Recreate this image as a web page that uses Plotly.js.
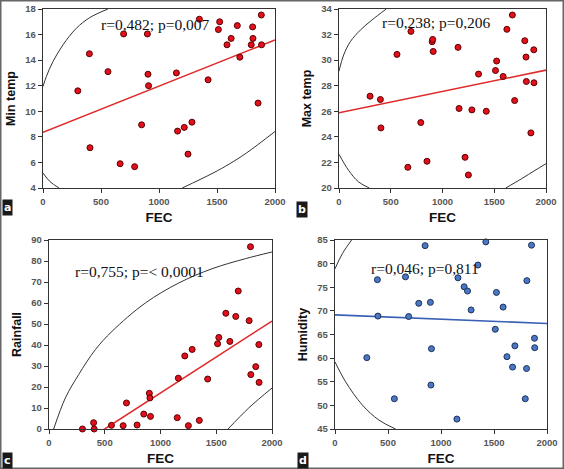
<!DOCTYPE html>
<html><head><meta charset="utf-8">
<script src="https://cdn.plot.ly/plotly-3.0.1.min.js"></script>
<style>html,body{margin:0;padding:0;background:#fff}#chart{width:564px;height:469px}</style>
</head><body><div id="chart"></div>
<script>
// ---- data ----
const FEC = [300,400,405,560,665,695,790,850,900,905,910,1150,1160,1218,1250,1284,1348,1423,1512,1523,1586,1622,1675,1697,1795,1807,1810,1854,1882,1884];
const minTemp = [11.6,14.5,7.15,13.1,5.9,16.05,5.67,8.94,16.05,12.9,12.0,13.0,8.45,8.74,6.65,9.15,17.2,12.46,16.39,17.0,15.2,15.7,16.7,14.23,15.2,16.6,15.7,10.64,17.53,15.2];
const maxTemp = [27.18,26.92,24.70,30.45,21.62,32.25,25.12,22.09,31.44,31.62,30.68,31.0,26.22,22.40,21.02,26.11,28.91,26.0,29.19,29.93,28.72,32.41,33.53,26.84,31.52,30.24,28.33,24.31,30.81,28.23];
const rainfall = [0,3.0,0,1.75,1.6,12.4,1.9,7.1,17.0,14.8,6.0,5.4,24.2,34.8,1.6,37.9,4.1,23.8,40.6,43.6,55.1,41.7,53.6,65.7,51.6,86.8,25.9,29.7,40.2,22.2];
const humidity = [60.1,76.6,68.9,51.4,77.2,68.8,71.6,83.8,71.8,54.3,62.0,47.1,77.0,75.1,74.2,70.2,79.7,84.6,66.1,73.9,70.8,60.3,58.1,62.6,51.4,57.8,76.4,83.9,64.2,62.2];

// fitted regression lines at FEC = 0 and 2000
const fitX = [0, 2000];
const minFit = [8.35, 15.58];
const maxFit = [25.88, 29.22];
const rainFit = [-17.1, 51.4];
const humFit = [69.15, 67.33];

// confidence-ellipse arcs
const aArc1X = [0,29,86,172,287,402,560], aArc1Y = [11.94,12.72,13.89,15.19,16.49,17.32,18.0];
const aArc2X = [0,58,138], aArc2Y = [5.17,4.52,4.0];
const aArc3X = [1200,1466,1610,1753,2000], aArc3Y = [4.0,5.17,5.9,6.73,8.42];
const bArc1X = [0,45,109,206,318,457], bArc1Y = [29.14,30.4,31.44,32.35,33.14,34.0];
const bArc2X = [0,93,190,293], bArc2Y = [22.64,21.38,20.47,20.0];
const bArc3X = [1611,1765,1894,2000], bArc3Y = [20.0,20.73,21.38,21.9];
const cArc1X = [42,147,266,416,565,864,1163,1462,1761,2000], cArc1Y = [0,14.8,25.9,37.8,46.5,60.0,69.5,76.3,81.1,84.3];
const cArc2X = [1606,1791,2000], cArc2Y = [0,10,19.5];
const dArc1X = [0,69,157], dArc1Y = [78.9,82.1,85.0];
const dArc2X = [0,100,257,414,571], dArc2Y = [59.2,55.0,50.1,46.9,45.0];

const yTitles = ['Min temp','Max temp','Rainfall','Humidity'];
const stats = ['r=0,482; p=0,007','r=0,238; p=0,206','r=0,755; p=&lt; 0,0001','r=0,046; p=0,811'];
const panelLetters = ['a','b','c','d'];

// ---- build ----
const RED = {fill:'#e3101c', edge:'#5a0000', line:'#e02a2a'};
const BLUE = {fill:'#4a78c6', edge:'#1d3158', line:'#3a5fb5'};
const traces = [];
function arc(x, y, ax){
  traces.push({x:x, y:y, xaxis:'x'+ax, yaxis:'y'+ax, mode:'lines', line:{color:'#333', width:1, shape:'spline', smoothing:1}, hoverinfo:'skip'});
}
function panel(ax, ys, fit, col){
  traces.push({x:fitX, y:fit, xaxis:'x'+ax, yaxis:'y'+ax, mode:'lines', line:{color:col.line, width:1.6}, hoverinfo:'skip'});
  traces.push({x:FEC, y:ys, xaxis:'x'+ax, yaxis:'y'+ax, mode:'markers', cliponaxis:false,
    marker:{size:6, color:col.fill, line:{color:col.edge, width:1}}, hoverinfo:'skip'});
}
arc(aArc1X,aArc1Y,''); arc(aArc2X,aArc2Y,''); arc(aArc3X,aArc3Y,'');
arc(bArc1X,bArc1Y,'2'); arc(bArc2X,bArc2Y,'2'); arc(bArc3X,bArc3Y,'2');
arc(cArc1X,cArc1Y,'3'); arc(cArc2X,cArc2Y,'3');
arc(dArc1X,dArc1Y,'4'); arc(dArc2X,dArc2Y,'4');
panel('', minTemp, minFit, RED);
panel('2', maxTemp, maxFit, RED);
panel('3', rainfall, rainFit, RED);
panel('4', humidity, humFit, BLUE);

const W = 564, H = 469;
const boxes = [ [43,275,9,188], [339,546,9,188], [49,272,240,429], [335,547,240,429] ];
const yRanges = [[4,18],[20,34],[0,90],[45,85]];
const yDticks = [2,2,10,5];
const tickFont = {family:'Liberation Sans, Arial', size:9.5, color:'#555', weight:'bold'};
const titleFont = {family:'Liberation Sans, Arial', size:13.5, color:'#111', weight:'bold'};
const layout = {
  width:W, height:H, margin:{l:0,r:0,t:0,b:0}, showlegend:false, hovermode:false,
  paper_bgcolor:'#fff', plot_bgcolor:'#fff', annotations:[], shapes:[]
};
boxes.forEach((b,i)=>{
  const s = i===0 ? '' : String(i+1);
  layout['xaxis'+s] = {domain:[b[0]/W, b[1]/W], anchor:'y'+s, range:[0,2000], dtick:500, tick0:0,
    showgrid:false, zeroline:false, showline:true, mirror:true, linecolor:'#333', linewidth:1.3,
    ticks:'outside', ticklen:4, tickcolor:'#333', tickfont:tickFont,
    title:{text:'FEC', font:titleFont, standoff:6}, automargin:false};
  layout['yaxis'+s] = {domain:[1-b[3]/H, 1-b[2]/H], anchor:'x'+s, range:yRanges[i], dtick:yDticks[i],
    showgrid:false, zeroline:false, showline:true, mirror:true, linecolor:'#333', linewidth:1.3,
    ticks:'outside', ticklen:4, tickcolor:'#333', tickfont:tickFont,
    title:{text:yTitles[i], font:{family:'Liberation Sans, Arial', size:12.5, color:'#111', weight:'bold'}, standoff:6}, automargin:false};
});
const statPos = [[967,16.75],[942,32.93],[813,74.9],[846,78.9]];
statPos.forEach((p,i)=>{
  const s = i===0 ? '' : String(i+1);
  layout.annotations.push({xref:'x'+s, yref:'y'+s, x:p[0], y:p[1], text:stats[i], showarrow:false,
    font:{family:'Liberation Serif, Times New Roman', size:15.5, color:'#111'}, xanchor:'center', yanchor:'middle'});
});
const letterPos = [[2,216],[296,218],[2,469],[297,469]];
letterPos.forEach((p,i)=>{
  layout.annotations.push({xref:'paper', yref:'paper', x:p[0]/W, y:1-p[1]/H, xanchor:'left', yanchor:'bottom',
    text:panelLetters[i], showarrow:false, bgcolor:'#1a1a1a', borderpad:1,
    font:{family:'DejaVu Sans', size:11, color:'#fff', weight:'bold'}});
});
layout.shapes.push({type:'rect', xref:'paper', yref:'paper', x0:0, x1:1, y0:0, y1:1, line:{color:'#666', width:3}});
Plotly.newPlot('chart', traces, layout, {staticPlot:true, displayModeBar:false});
</script></body></html>
